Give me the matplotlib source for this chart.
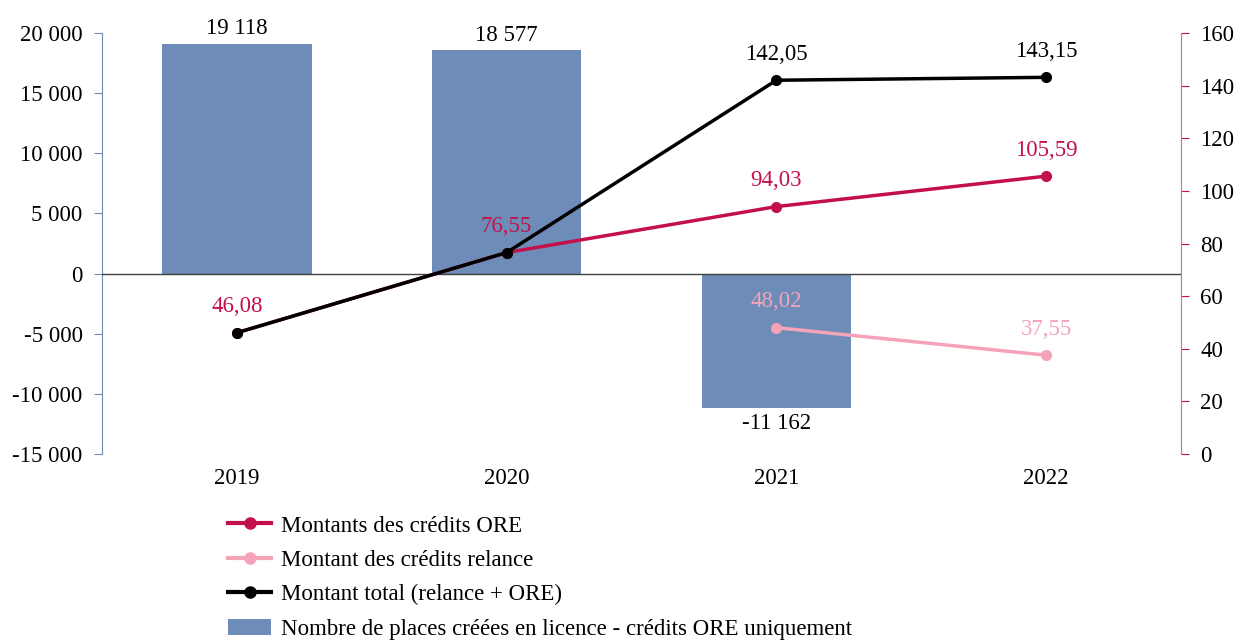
import matplotlib
matplotlib.use("Agg")
import matplotlib.pyplot as plt
import numpy as np
from matplotlib.lines import Line2D
from matplotlib.patches import Patch

plt.rcParams['font.family'] = ['Liberation Serif', 'DejaVu Serif']

years = ["2019", "2020", "2021", "2022"]
places = [19118, 18577, -11162, np.nan]
credits_ore = [46.08, 76.55, 94.03, 105.59]
credits_relance = [np.nan, np.nan, 48.02, 37.55]
total = [46.08, 76.55, 142.05, 143.15]

c_bar = "#6d8cb7"
c_ore = "#c4104a"
c_rel = "#f4a3b9"
c_tot = "#000000"
FS = 16.5

fig = plt.figure(figsize=(12.42, 6.41), dpi=100)
ax = fig.add_axes([102/1242, 1-454/641, (1181-102)/1242, (454-33)/641])
ax2 = ax.twinx()

x = np.arange(len(years))
ax.bar(x, places, width=0.555, color=c_bar, zorder=2)
ax.axhline(0, color="#404040", lw=1.0, zorder=3)
ax.set_xlim(-0.5, 3.5)
ax.set_ylim(-15000, 20000)
ax.set_yticks(np.arange(-15000, 20001, 5000))
ax.set_yticklabels([f"{v:,}".replace(",", " ") for v in range(-15000, 20001, 5000)], fontsize=FS)
ax.set_xticks(x)
ax.set_xticklabels(years, fontsize=FS)
ax.tick_params(axis='x', length=0, pad=10)
ax.tick_params(axis='y', length=6, color=c_bar, pad=8)
for s in ["top", "right", "bottom"]:
    ax.spines[s].set_visible(False)
ax.spines["left"].set_color(c_bar)

for xi, v in zip(x, places):
    if np.isnan(v):
        continue
    lab = f"{int(v):,}".replace(",", " ")
    if v >= 0:
        ax.annotate(lab, (xi, v), xytext=(0, 3), textcoords="offset points", ha="center", va="bottom", fontsize=FS)
    else:
        ax.annotate(lab, (xi, v), xytext=(0, -4), textcoords="offset points", ha="center", va="top", fontsize=FS)

ax2.set_ylim(0, 160)
ax2.set_yticks(np.arange(0, 161, 20))
ax2.set_yticklabels([str(v) for v in range(0, 161, 20)], fontsize=FS)
ax2.tick_params(axis='y', length=6, color=c_ore, pad=8)
for s in ["top", "left", "bottom"]:
    ax2.spines[s].set_visible(False)
ax2.spines["right"].set_color("#b87a8c")

ax2.plot(x, credits_ore, color=c_ore, lw=2.5, marker='o', ms=7, zorder=3)
ax2.plot(x, credits_relance, color=c_rel, lw=2.5, marker='o', ms=7, zorder=3)
ax2.plot(x, total, color=c_tot, lw=2.5, marker='o', ms=7, zorder=4)

def fmt(v):
    return f"{v:.2f}".replace(".", ",")

for xi, v in zip(x, credits_ore):
    ax2.annotate(fmt(v), (xi, v), xytext=(0, 11), textcoords="offset points", ha="center", va="bottom", fontsize=FS, color=c_ore)
for xi, v in zip(x, credits_relance):
    if np.isnan(v):
        continue
    ax2.annotate(fmt(v), (xi, v), xytext=(0, 11), textcoords="offset points", ha="center", va="bottom", fontsize=FS, color=c_rel)
for xi, v in zip(x[2:], total[2:]):
    ax2.annotate(fmt(v), (xi, v), xytext=(0, 11), textcoords="offset points", ha="center", va="bottom", fontsize=FS, color=c_tot)

handles = [
    Line2D([], [], color=c_ore, lw=3, marker='o', ms=8),
    Line2D([], [], color=c_rel, lw=3, marker='o', ms=8),
    Line2D([], [], color=c_tot, lw=3, marker='o', ms=8),
    Patch(facecolor=c_bar, edgecolor='none'),
]
labels = [
    "Montants des crédits ORE",
    "Montant des crédits relance",
    "Montant total (relance + ORE)",
    "Nombre de places créées en licence - crédits ORE uniquement",
]
fig.legend(handles, labels, loc="upper left", bbox_to_anchor=(217/1242, 1-504/641), frameon=False,
           fontsize=FS, handlelength=1.85, labelspacing=0.58, handletextpad=0.45, borderpad=0)

fig.savefig("out.png", dpi=100)
